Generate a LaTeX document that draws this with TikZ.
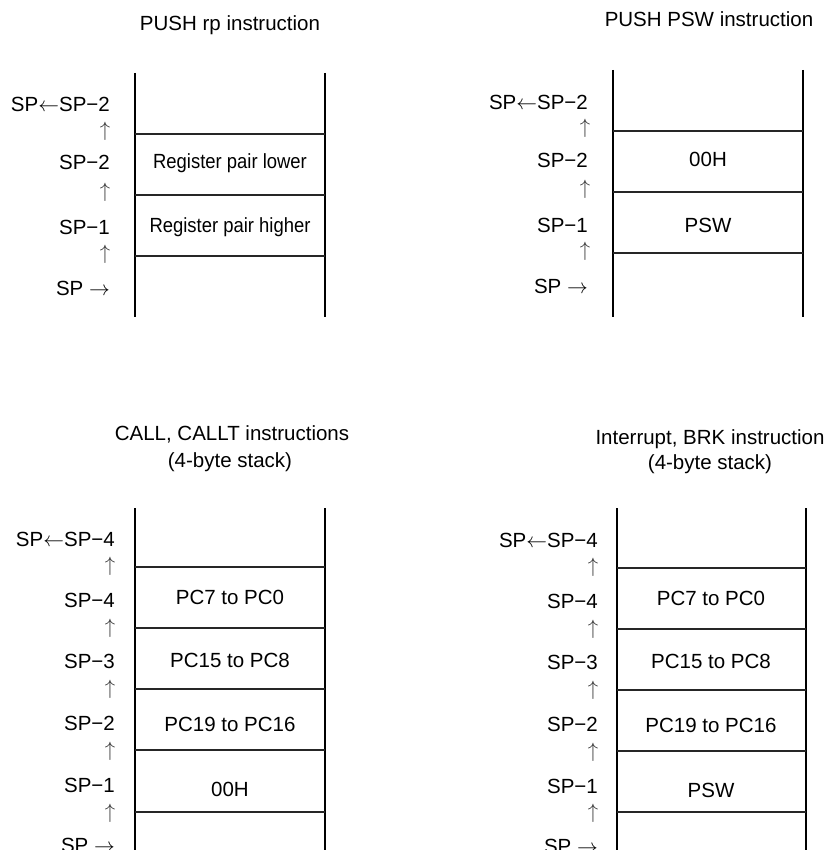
\documentclass[tikz,border=0pt]{standalone}
\usepackage{fontspec}
\setmainfont{Liberation Sans}
\usepackage{graphicx}
\begin{document}
\begin{tikzpicture}[x=1pt,y=-1pt,
  txt/.style={inner sep=0pt, font=\fontsize{20.5}{24}\selectfont},
  lbl/.style={txt, anchor=base east},
  celltxt/.style={txt, anchor=base},
  upa/.style={txt, anchor=base, text=black!80},
  wall/.style={line width=2.4pt},
  sepline/.style={line width=1.1pt, black!85}]
\useasboundingbox (0,0) rectangle (832,850);
\clip (0,0) rectangle (832,850);

% ---------- Titles ----------
\node[celltxt] (t1) at (230,31) {PUSH rp instruction};
\node[celltxt] (t2) at (709,27) {PUSH PSW instruction};
\node[celltxt] (t3) at (232,440) {CALL, CALLT instructions};
\node[celltxt] (t3b) at (230,467) {(4-byte stack)};
\node[celltxt] (t4) at (710,444) {Interrupt, BRK instruction};
\node[celltxt] (t4b) at (710,469) {(4-byte stack)};

% ---------- Panel 1: PUSH rp ----------
\draw[wall] (135,73) -- (135,317);
\draw[wall] (325,73) -- (325,317);
\foreach \y in {134,195,256} \draw[sepline] (135,\y) -- (325,\y);
\node[lbl] (a1) at (110,112) {SP$\leftarrow$SP−2};
\node[lbl] (a2) at (110,170) {SP−2};
\node[lbl] (a3) at (110,234) {SP−1};
\node[lbl] (a4) at (110,295) {SP $\rightarrow$};
\node[upa] (au1) at (105,137) {$\uparrow$};
\node[upa] (au2) at (105,198) {$\uparrow$};
\node[upa] (au3) at (105,259) {$\uparrow$};
\node[celltxt] (c11) at (230,169) {\scalebox{0.9}[1]{Register pair lower}};
\node[celltxt] (c12) at (230,233) {\scalebox{0.9}[1]{Register pair higher}};

% ---------- Panel 2: PUSH PSW ----------
\draw[wall] (613,70) -- (613,317);
\draw[wall] (803,70) -- (803,317);
\foreach \y in {131,192,253} \draw[sepline] (613,\y) -- (803,\y);
\node[lbl] (b1) at (588,110) {SP$\leftarrow$SP−2};
\node[lbl] (b2) at (588,168) {SP−2};
\node[lbl] (b3) at (588,233) {SP−1};
\node[lbl] (b4) at (588,293) {SP $\rightarrow$};
\node[upa] (bu1) at (585,134) {$\uparrow$};
\node[upa] (bu2) at (585,195) {$\uparrow$};
\node[upa] (bu3) at (585,256) {$\uparrow$};
\node[celltxt] (c21) at (708,167) {00H};
\node[celltxt] (c22) at (708,233) {PSW};

% ---------- Panel 3: CALL, CALLT ----------
\draw[wall] (135,508) -- (135,852);
\draw[wall] (325,508) -- (325,852);
\foreach \y in {567,628,689,750,812} \draw[sepline] (135,\y) -- (325,\y);
\node[lbl] (d1) at (115,546) {SP$\leftarrow$SP−4};
\node[lbl] (d2) at (115,607) {SP−4};
\node[lbl] (d3) at (115,668) {SP−3};
\node[lbl] (d4) at (115,730) {SP−2};
\node[lbl] (d5) at (115,792) {SP−1};
\node[lbl] (d6) at (115,852) {SP $\rightarrow$};
\node[upa] (du1) at (110,571) {$\uparrow$};
\node[upa] (du2) at (110,633) {$\uparrow$};
\node[upa] (du3) at (110,694) {$\uparrow$};
\node[upa] (du4) at (110,756) {$\uparrow$};
\node[upa] (du5) at (110,818) {$\uparrow$};
\node[celltxt] (c31) at (230,604) {PC7 to PC0};
\node[celltxt] (c32) at (230,667) {PC15 to PC8};
\node[celltxt] (c33) at (230,731) {PC19 to PC16};
\node[celltxt] (c34) at (230,796) {00H};

% ---------- Panel 4: Interrupt, BRK ----------
\draw[wall] (617,508) -- (617,852);
\draw[wall] (806,508) -- (806,852);
\foreach \y in {568,629,690,751,812} \draw[sepline] (617,\y) -- (806,\y);
\node[lbl] (e1) at (598,547) {SP$\leftarrow$SP−4};
\node[lbl] (e2) at (598,608) {SP−4};
\node[lbl] (e3) at (598,669) {SP−3};
\node[lbl] (e4) at (598,731) {SP−2};
\node[lbl] (e5) at (598,793) {SP−1};
\node[lbl] (e6) at (598,853) {SP $\rightarrow$};
\node[upa] (eu1) at (593,572) {$\uparrow$};
\node[upa] (eu2) at (593,634) {$\uparrow$};
\node[upa] (eu3) at (593,695) {$\uparrow$};
\node[upa] (eu4) at (593,757) {$\uparrow$};
\node[upa] (eu5) at (593,818) {$\uparrow$};
\node[celltxt] (c41) at (711,605) {PC7 to PC0};
\node[celltxt] (c42) at (711,668) {PC15 to PC8};
\node[celltxt] (c43) at (711,732) {PC19 to PC16};
\node[celltxt] (c44) at (711,797) {PSW};
\end{tikzpicture}
\end{document}
